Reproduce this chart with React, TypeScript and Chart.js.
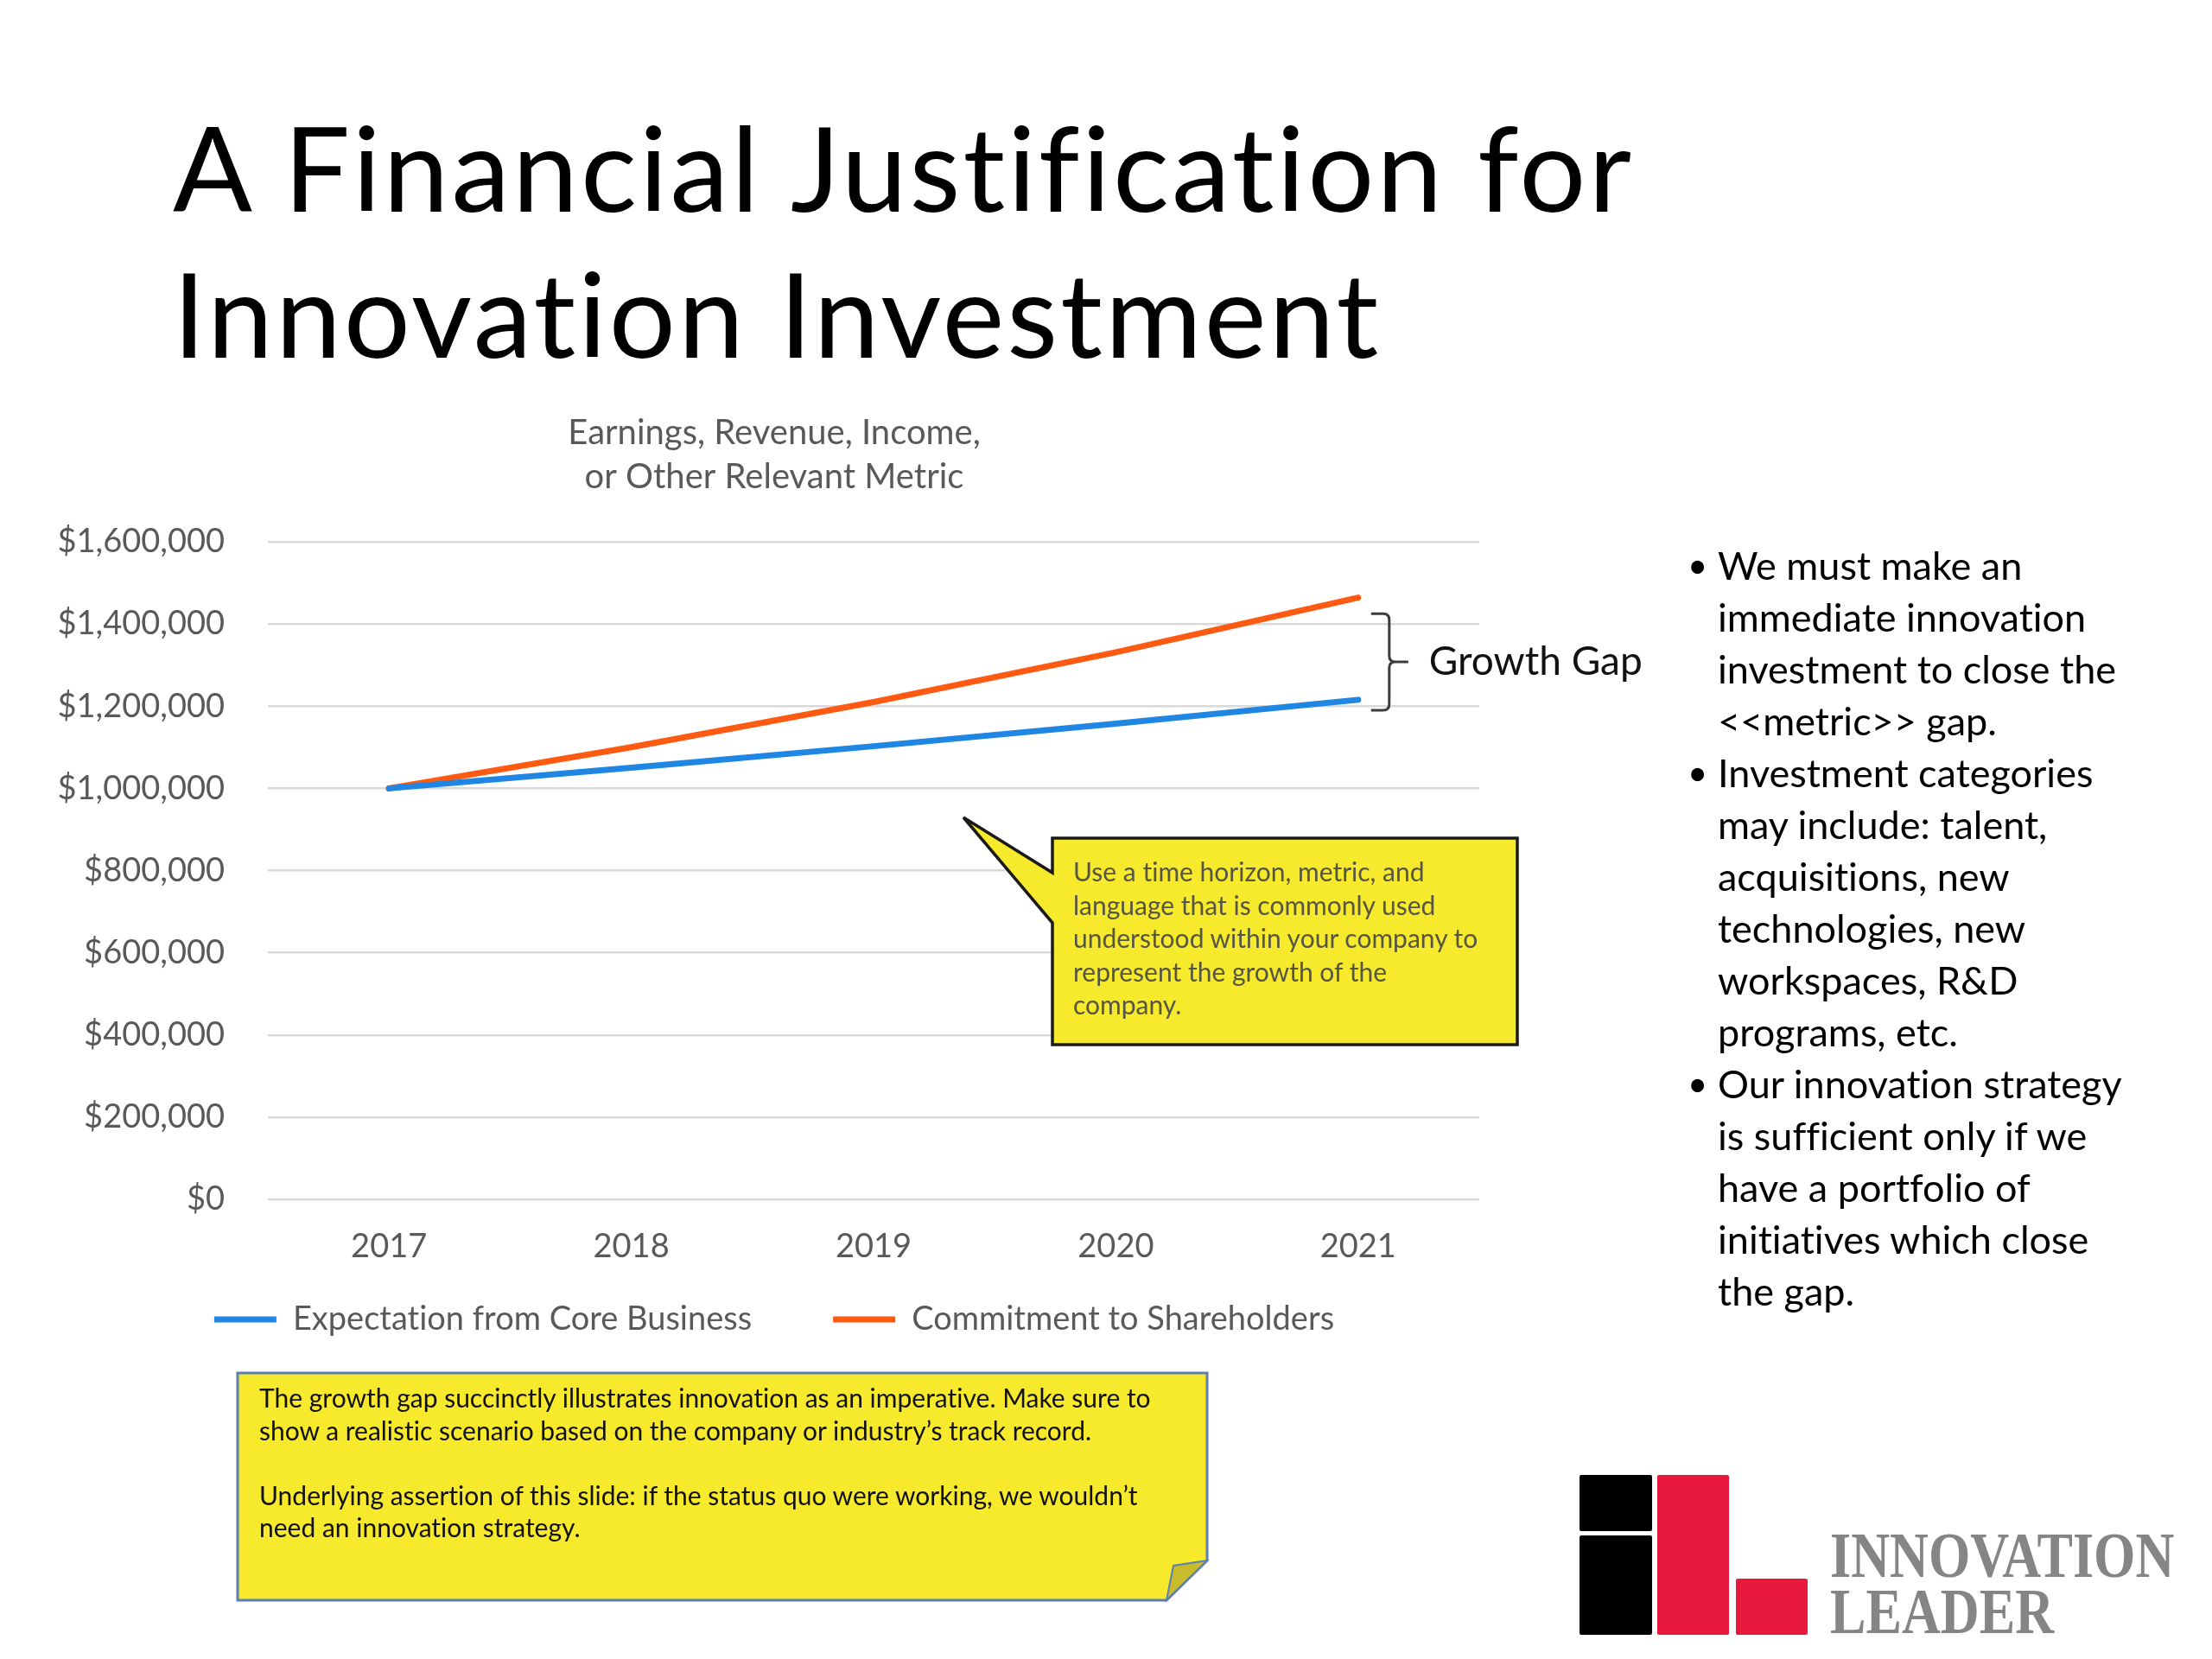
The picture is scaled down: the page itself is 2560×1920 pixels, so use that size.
import React, { useEffect, useRef } from "react";
import { Chart, registerables } from "chart.js";

Chart.register(...registerables);

// ---- data ----
const years = ["2017", "2018", "2019", "2020", "2021"];
const coreBusiness = [1000000, 1050000, 1102500, 1157600, 1215500];
const shareholders = [1000000, 1100000, 1210000, 1331000, 1464100];
const seriesNames = ["Expectation from Core Business", "Commitment to Shareholders"];
const seriesColors = ["#1F87E3", "#FF5A12"];
const chartTitle = ["Earnings, Revenue, Income,", "or Other Relevant Metric"];
const yMin = 0;
const yMax = 1600000;
const yStep = 200000;
const gapBracket = [1425000, 1190000];
const gapLabel = "Growth Gap";

const slideTitle = ["A Financial Justification for", "Innovation Investment"];
const bullets = [
  ["We must make an", "immediate innovation", "investment to close the", "<<metric>> gap."],
  ["Investment categories", "may include: talent,", "acquisitions, new", "technologies, new", "workspaces, R&D", "programs, etc."],
  ["Our innovation strategy", "is sufficient only if we", "have a portfolio of", "initiatives which close", "the gap."],
];
const calloutLines = [
  "Use a time horizon, metric, and",
  "language that is commonly used",
  "understood within your company to",
  "represent the growth of the",
  "company.",
];
const noteLines = [
  "The growth gap succinctly illustrates innovation as an imperative. Make sure to",
  "show a realistic scenario based on the company or industry\u2019s track record.",
  "",
  "Underlying assertion of this slide: if the status quo were working, we wouldn\u2019t",
  "need an innovation strategy.",
];

const FONT = "Lato, 'Open Sans', sans-serif";
const GRAY = "#595959";
const YELLOW = "#F7E92C";

const noClipPlugin = {
  id: "noLabelClip",
  afterLayout(chart: any) {
    Object.values(chart.scales).forEach((s: any) => {
      s._computeLabelArea = () => null;
    });
  },
};

const bracketPlugin = {
  id: "growthGap",
  afterDatasetsDraw(chart: any) {
    const { ctx, scales } = chart;
    const x = scales.x;
    const y = scales.y;
    const x0 = x.getPixelForValue(years.length - 1);
    const top = y.getPixelForValue(gapBracket[0]);
    const bot = y.getPixelForValue(gapBracket[1]);
    const mid = (top + bot) / 2;
    const xl = x0 + 15;
    const xs = x0 + 36;
    const xt = x0 + 58;
    const r = 7;
    ctx.save();
    ctx.strokeStyle = "#3c3c3c";
    ctx.lineWidth = 3;
    ctx.lineJoin = "round";
    ctx.beginPath();
    ctx.moveTo(xl, top);
    ctx.lineTo(xs - r, top);
    ctx.quadraticCurveTo(xs, top, xs, top + r);
    ctx.lineTo(xs, mid - r);
    ctx.quadraticCurveTo(xs, mid, xs + r, mid);
    ctx.lineTo(xt, mid);
    ctx.moveTo(xs + r, mid);
    ctx.quadraticCurveTo(xs, mid, xs, mid + r);
    ctx.lineTo(xs, bot - r);
    ctx.quadraticCurveTo(xs, bot, xs - r, bot);
    ctx.lineTo(xl, bot);
    ctx.stroke();
    ctx.fillStyle = "#111111";
    ctx.font = `46px ${FONT}`;
    ctx.textBaseline = "middle";
    ctx.textAlign = "left";
    ctx.fillText(gapLabel, x0 + 82, mid);
    ctx.restore();
  },
};

function LineChart() {
  const ref = useRef<HTMLCanvasElement | null>(null);
  useEffect(() => {
    if (!ref.current) return;
    const tickFont = { family: FONT, size: 38 };
    const chart = new Chart(ref.current, {
      type: "line",
      data: {
        labels: years,
        datasets: [
          {
            label: seriesNames[0],
            data: coreBusiness,
            borderColor: seriesColors[0],
            backgroundColor: seriesColors[0],
            borderWidth: 7,
            borderCapStyle: "round",
            pointRadius: 0,
            pointStyle: "line",
            tension: 0,
          },
          {
            label: seriesNames[1],
            data: shareholders,
            borderColor: seriesColors[1],
            backgroundColor: seriesColors[1],
            borderWidth: 7,
            borderCapStyle: "round",
            pointRadius: 0,
            pointStyle: "line",
            tension: 0,
          },
        ],
      },
      options: {
        responsive: false,
        animation: false,
        devicePixelRatio: 1,
        layout: { padding: { left: 80, right: 238, top: 0, bottom: 0 } },
        plugins: {
          title: {
            display: true,
            text: chartTitle,
            color: GRAY,
            font: { family: FONT, size: 40, weight: "normal", lineHeight: 51 / 40 },
            padding: { top: 16, bottom: 49 },
          },
          legend: {
            position: "bottom",
            labels: {
              usePointStyle: true,
              pointStyle: "line",
              pointStyleWidth: 72,
              color: GRAY,
              font: tickFont,
              padding: 94,
            },
          },
          tooltip: { enabled: false },
        },
        scales: {
          x: {
            offset: true,
            grid: { display: false, drawTicks: false },
            border: { display: false },
            ticks: { color: GRAY, font: tickFont, padding: 32 },
            afterFit: (s: any) => {
              s.height = 26;
            },
          },
          y: {
            min: yMin,
            max: yMax,
            grid: { color: "#d9d9d9", lineWidth: 2.5, drawTicks: false },
            border: { display: false },
            ticks: {
              stepSize: yStep,
              color: GRAY,
              font: tickFont,
              padding: 50,
              callback: (v: any) => "$" + Number(v).toLocaleString("en-US"),
            },
            afterFit: (s: any) => {
              s.width = 230;
            },
          },
        },
      },
      plugins: [noClipPlugin, bracketPlugin],
    } as any);
    return () => chart.destroy();
  }, []);
  return <canvas ref={ref} width={1950} height={1096} style={{ position: "absolute", left: 0, top: 460, width: 1950, height: 1096 }} />;
}

export default function App() {
  return (
    <div style={{ position: "absolute", left: 0, top: 0, width: 2560, height: 1920, background: "#fff", overflow: "hidden", fontFamily: FONT, fontVariantLigatures: "none" }}>
      {/* slide title */}
      <div style={{ position: "absolute", left: 200, top: 108, fontSize: 136, letterSpacing: 3, lineHeight: "169px", color: "#000", whiteSpace: "nowrap" }}>
        {slideTitle.map((t, i) => (
          <div key={i}>{t}</div>
        ))}
      </div>

      <LineChart />

      <svg width={2560} height={1920} style={{ position: "absolute", left: 0, top: 0, pointerEvents: "none" }}>
        {/* callout */}
        <polygon
          points="1218,970 1756,970 1756,1209 1218,1209 1218,1068 1115,946 1218,1010"
          fill={YELLOW}
          stroke="#1a1a1a"
          strokeWidth={3.5}
          strokeLinejoin="miter"
        />
        {/* note */}
        <polygon
          points="275,1589 1397,1589 1397,1806 1350,1852 275,1852"
          fill={YELLOW}
          stroke="#5B7FB3"
          strokeWidth={3}
        />
        <polygon points="1397,1806 1358,1812 1350,1852" fill="#C9BC2A" stroke="#5B7FB3" strokeWidth={2} />
        {/* logo blocks */}
        <rect x={1828} y={1707} width={84} height={65} fill="#000" rx={2} />
        <rect x={1828} y={1777} width={84} height={115} fill="#000" rx={2} />
        <rect x={1918} y={1707} width={83} height={185} fill="#E8193C" rx={2} />
        <rect x={2009} y={1827} width={83} height={65} fill="#E8193C" rx={2} />
      </svg>

      <div style={{ position: "absolute", left: 1242, top: 989, fontSize: 30, lineHeight: "38.6px", color: "#555544", whiteSpace: "nowrap" }}>
        {calloutLines.map((t, i) => (
          <div key={i}>{t}</div>
        ))}
      </div>

      <div style={{ position: "absolute", left: 300, top: 1599, fontSize: 30, lineHeight: "37.5px", color: "#111", whiteSpace: "nowrap" }}>
        {noteLines.map((t, i) => (
          <div key={i} style={{ height: 37.5 }}>{t}</div>
        ))}
      </div>

      {/* bullets */}
      <div style={{ position: "absolute", left: 1953, top: 624, fontSize: 45, lineHeight: "60px", color: "#000", whiteSpace: "nowrap" }}>
        {bullets.map((para, i) => (
          <div key={i} style={{ position: "relative", paddingLeft: 35 }}>
            <span style={{ position: "absolute", left: 0, top: 0, fontSize: 40 }}>{"\u2022"}</span>
            {para.map((l, j) => (
              <div key={j}>{l}</div>
            ))}
          </div>
        ))}
      </div>

      {/* logo text */}
      <div
        style={{
          position: "absolute",
          left: 2118,
          top: 1768,
          fontFamily: "'Liberation Serif', 'DejaVu Serif', serif",
          fontWeight: 700,
          fontSize: 74,
          lineHeight: "65px",
          color: "#858585",
          transform: "scaleX(0.84)",
          transformOrigin: "0 0",
          whiteSpace: "nowrap",
        }}
      >
        <div>INNOVATION</div>
        <div>LEADER</div>
      </div>
    </div>
  );
}
